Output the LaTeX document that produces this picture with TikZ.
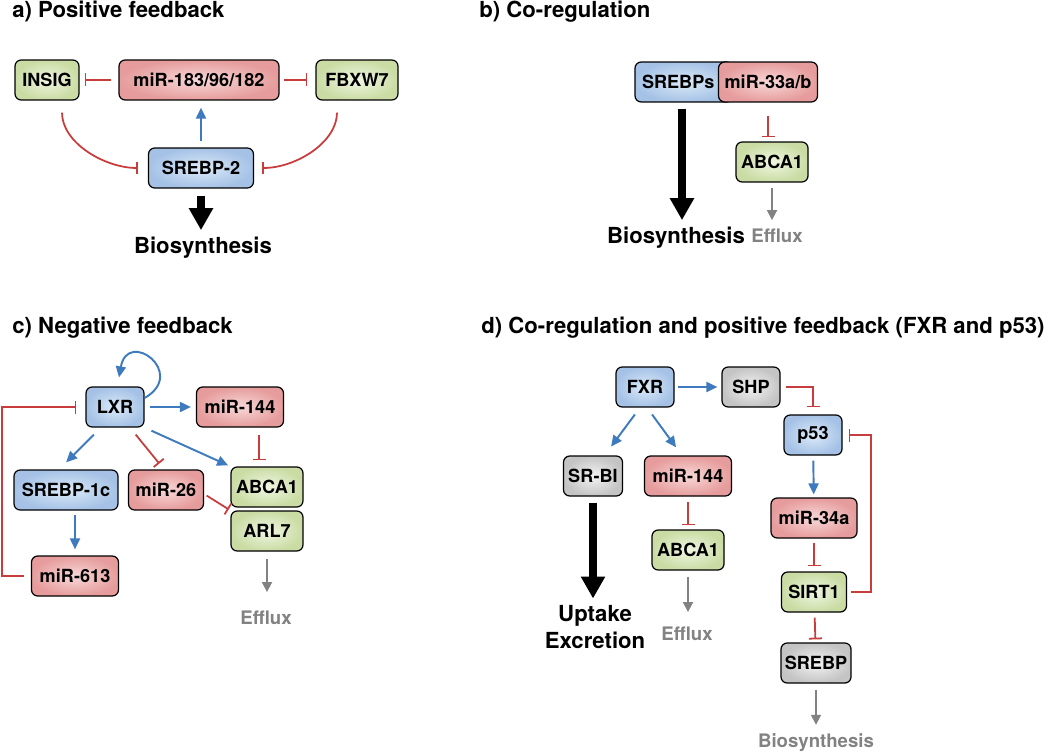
\documentclass[tikz,border=0pt]{standalone}
\usepackage{fontspec}
\setmainfont{TeX Gyre Heros}
\usetikzlibrary{arrows.meta}

\definecolor{actblue}{RGB}{62,122,190}
\definecolor{inhred}{RGB}{200,60,60}
\definecolor{fluxgray}{RGB}{130,130,130}
\definecolor{blueout}{RGB}{165,194,230}
\definecolor{bluein}{RGB}{220,234,248}
\definecolor{redout}{RGB}{230,156,156}
\definecolor{redin}{RGB}{248,216,216}
\definecolor{greenout}{RGB}{202,220,164}
\definecolor{greenin}{RGB}{240,246,226}
\definecolor{grayout}{RGB}{196,196,196}
\definecolor{grayin}{RGB}{243,243,243}

\begin{document}
\begin{tikzpicture}[x=0.02cm, y=-0.02cm]
	\tikzstyle{box} = [draw=black, line width=0.7pt, rounded corners=3.5pt, minimum height=0.8cm, inner sep=2pt, font=\fontsize{10.3}{12}\selectfont\bfseries]
	\tikzstyle{bluebox} = [box, inner color=bluein, outer color=blueout]
	\tikzstyle{redbox} = [box, inner color=redin, outer color=redout]
	\tikzstyle{greenbox} = [box, inner color=greenin, outer color=greenout]
	\tikzstyle{graybox} = [box, inner color=grayin, outer color=grayout]
	\tikzstyle{title} = [anchor=base west, inner sep=0, font=\fontsize{12.6}{15}\selectfont\bfseries]
	\tikzstyle{result} = [anchor=base, inner sep=0, font=\fontsize{12.6}{15}\selectfont\bfseries]
	\tikzstyle{fluxtext} = [anchor=base, inner sep=0, text=fluxgray, font=\fontsize{10.6}{13}\selectfont\bfseries]
	\tikzstyle{act} = [actblue, line width=1.1pt, -{Triangle[width=0.2cm, length=0.22cm]}]
	\tikzstyle{inh} = [inhred, line width=1pt, -{Bar[width=0.26cm]}]
	\tikzstyle{flux} = [fluxgray, line width=1pt, -{Triangle[width=0.2cm, length=0.2cm]}]
	\tikzstyle{big} = [black, line width=0.16cm, -{Triangle[width=0.46cm, length=0.44cm]}]
	\useasboundingbox (0,0) rectangle (1050,753);

	% a) positive feedback
	\node[title] (TitleA) at (12,18) {a) Positive feedback};
	\node[greenbox, minimum width=1.28cm] (INSIGa) at (47,80) {INSIG};
	\node[redbox, minimum width=3.2cm] (MIRa) at (199,80) {miR-183/96/182};
	\node[greenbox, minimum width=1.64cm] (FBXWa) at (357,80) {FBXW7};
	\node[bluebox, minimum width=2.1cm] (SREBPa) at (201,168) {SREBP-2};
	\node[result] (BIOa) at (203,253) {Biosynthesis};
	\draw[inh, shorten <=0.14cm, shorten >=0.1cm] (MIRa) -- (INSIGa);
	\draw[inh, shorten <=0.08cm, shorten >=0.16cm] (MIRa) -- (FBXWa);
	\draw[act, shorten <=0.12cm, shorten >=0.14cm] (SREBPa.north) -- (SREBPa.north |- MIRa.south);
	\draw[inh, shorten <=0.24cm, shorten >=0.2cm] ([xshift=0.3cm]INSIGa.south) to[out=-90, in=180] (SREBPa.west);
	\draw[inh, shorten <=0.24cm, shorten >=0.16cm] ([xshift=-0.4cm]FBXWa.south) to[out=-90, in=0] (SREBPa.east);
	\draw[big, shorten <=0.14cm, shorten >=0.12cm] (SREBPa.south) -- (SREBPa.south |- BIOa.north);

	% b) co-regulation
	\node[title] (TitleB) at (479,18) {b) Co-regulation};
	\node[bluebox, text width=1.68cm, inner xsep=0.14cm, align=left] (SREBPb) at (684,82) {SREBPs};
	\node[redbox, minimum width=1.98cm] (MIRb) at (768,82) {miR-33a/b};
	\node[greenbox, minimum width=1.44cm] (ABCAb) at (772,162) {ABCA1};
	\node[result] (BIOb) at (676,243) {Biosynthesis};
	\node[fluxtext] (EFFb) at (777,242) {Efflux};
	\draw[big, shorten <=0.12cm, shorten >=0.12cm] ([xshift=-0.04cm]SREBPb.south) -- ([xshift=-0.04cm]SREBPb.south |- BIOb.north);
	\draw[inh, shorten <=0.26cm, shorten >=0.08cm] (MIRb.south) -- (MIRb.south |- ABCAb.north);
	\draw[flux, shorten <=0.1cm, shorten >=0.16cm] (ABCAb.south) -- (ABCAb.south |- EFFb.north);

	% c) negative feedback
	\node[title] (TitleC) at (12,333) {c) Negative feedback};
	\node[bluebox, minimum width=1.16cm] (LXR) at (115,407) {LXR};
	\node[redbox, minimum width=1.74cm] (MIR144c) at (240,407) {miR-144};
	\node[bluebox, minimum width=2.08cm] (SREBPc) at (66,490) {SREBP-1c};
	\node[redbox, minimum width=1.5cm] (MIR26) at (166,490) {miR-26};
	\node[greenbox, minimum width=1.44cm] (ABCAc) at (267,487) {ABCA1};
	\node[greenbox, minimum width=1.44cm] (ARL7) at (267,531) {ARL7};
	\node[redbox, minimum width=1.74cm] (MIR613) at (75,576) {miR-613};
	\node[fluxtext] (EFFc) at (266,624) {Efflux};
	\draw[act] ([yshift=0.18cm]LXR.east) .. controls +(30:1cm) and +(80:1cm) .. ([xshift=0.08cm, yshift=0.18cm]LXR.north);
	\draw[act, shorten <=0.1cm, shorten >=0.1cm] (LXR) -- (MIR144c);
	\draw[act, shorten <=0.2cm, shorten >=0.2cm] ([xshift=-0.28cm]LXR.south) -- ([xshift=-0.14cm]SREBPc.north);
	\draw[inh, shorten <=0.18cm, shorten >=0.15cm] ([xshift=0.3cm]LXR.south) -- ([xshift=-0.04cm]MIR26.north);
	\draw[act, shorten <=0.15cm, shorten >=0.05cm] (LXR.south east) -- (ABCAc.north west);
	\draw[inh, shorten <=0.14cm, shorten >=0.12cm] ([xshift=0.38cm]MIR144c.south) -- ([xshift=0.38cm]MIR144c.south |- ABCAc.north);
	\draw[inh, shorten <=0.06cm, shorten >=0.04cm] ([yshift=-0.08cm]MIR26.east) -- (ARL7.north west);
	\draw[act, shorten <=0.08cm, shorten >=0.12cm] (MIR613.north |- SREBPc.south) -- (MIR613.north);
	\draw[inh, shorten <=0.14cm, shorten >=0.18cm] (MIR613.west) -- ++(-29,0) |- (LXR.west);
	\draw[flux, shorten <=0.14cm, shorten >=0.36cm] (ARL7.south) -- (ARL7.south |- EFFc.north);

	% d) co-regulation and positive feedback
	\node[title] (TitleD) at (481,333) {d) Co-regulation and positive feedback (FXR and p53)};
	\node[bluebox, minimum width=1.16cm] (FXR) at (645,387) {FXR};
	\node[graybox, minimum width=1.16cm] (SHP) at (751,387) {SHP};
	\node[bluebox, minimum width=1.16cm] (P53) at (813,435) {p53};
	\node[graybox, minimum width=1.18cm] (SRBI) at (593,476) {SR-BI};
	\node[redbox, minimum width=1.74cm] (MIR144d) at (688,476) {miR-144};
	\node[greenbox, minimum width=1.44cm] (ABCAd) at (688,550) {ABCA1};
	\node[redbox, minimum width=1.72cm] (MIR34) at (814,518) {miR-34a};
	\node[greenbox, minimum width=1.3cm] (SIRT) at (814,592) {SIRT1};
	\node[graybox, minimum width=1.4cm] (SREBPd) at (816,663) {SREBP};
	\node[result] (UPT) at (595,621) {Uptake};
	\node[result] (EXC) at (595,648) {Excretion};
	\node[fluxtext] (EFFd) at (687,640) {Efflux};
	\node[fluxtext] (BIOd) at (816,747) {Biosynthesis};
	\draw[act, shorten <=0.06cm, shorten >=0.08cm] (FXR) -- (SHP);
	\draw[inh, shorten <=0.1cm, shorten >=0.14cm] (SHP.east) -| (P53.north);
	\draw[act, shorten <=0.17cm, shorten >=0.22cm] ([xshift=-0.1cm]FXR.south) -- ([xshift=0.23cm]SRBI.north);
	\draw[act, shorten <=0.17cm, shorten >=0.2cm] ([xshift=0.04cm]FXR.south) -- ([xshift=-0.12cm]MIR144d.north);
	\draw[big, shorten <=0.12cm, shorten >=0.12cm] (SRBI.south) -- (SRBI.south |- UPT.north);
	\draw[inh, shorten <=0.1cm, shorten >=0.08cm] (MIR144d) -- (ABCAd);
	\draw[flux, shorten <=0.12cm, shorten >=0.28cm] (ABCAd.south) -- (ABCAd.south |- EFFd.north);
	\draw[act, shorten <=0.1cm, shorten >=0.06cm] (P53) -- (MIR34);
	\draw[inh, shorten <=0.08cm, shorten >=0.1cm] (MIR34) -- (SIRT);
	\draw[inh, shorten <=0.1cm, shorten >=0.06cm] (SIRT) -- (SREBPd);
	\draw[inh, shorten <=0.08cm, shorten >=0.12cm] (SIRT.east) -- ++(24,0) |- (P53.east);
	\draw[flux, shorten <=0.12cm, shorten >=0.16cm] (SREBPd.south) -- (SREBPd.south |- BIOd.north);
\end{tikzpicture}
\end{document}
